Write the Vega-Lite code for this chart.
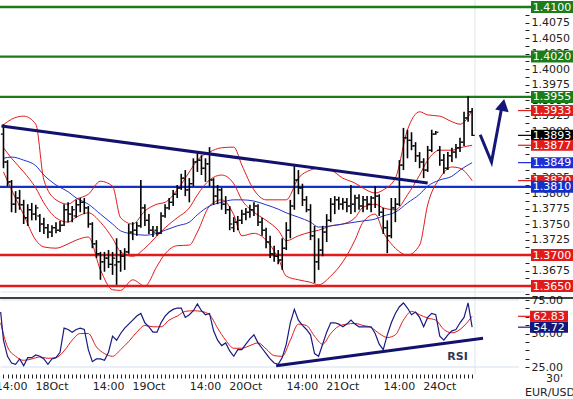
{
"$schema":"https://vega.github.io/schema/vega-lite/v6.json",
"width":573,"height":374,
"autosize":{"type":"none"},
"padding":{"left":0,"top":0,"right":0,"bottom":25},
"background":"white",
"config":{"font":"DejaVu Sans","view":{"stroke":null},"axis":{"labelOverlap":false}},
"datasets":{
"one":[{}],
"timeLabels":[
{"t":14,"label":"14:00"},{"t":24,"label":"18Oct"},{"t":38,"label":"14:00"},{"t":48,"label":"19Oct"},{"t":62,"label":"14:00"},
{"t":72,"label":"20Oct"},{"t":86,"label":"14:00"},{"t":96,"label":"21Oct"},{"t":110,"label":"14:00"},{"t":120,"label":"24Oct"}
],
"bars":[
{"t":12,"o":1.3895,"h":1.3911,"l":1.3840,"c":1.3850},
{"t":13,"o":1.3850,"h":1.3853,"l":1.3811,"c":1.3818},
{"t":14,"o":1.3818,"h":1.3821,"l":1.3769,"c":1.3782},
{"t":15,"o":1.3782,"h":1.3803,"l":1.3768,"c":1.3792},
{"t":16,"o":1.3792,"h":1.3805,"l":1.3773,"c":1.3781},
{"t":17,"o":1.3781,"h":1.3789,"l":1.3750,"c":1.3760},
{"t":18,"o":1.3760,"h":1.3782,"l":1.3747,"c":1.3773},
{"t":19,"o":1.3773,"h":1.3784,"l":1.3756,"c":1.3766},
{"t":20,"o":1.3766,"h":1.3781,"l":1.3756,"c":1.3776},
{"t":21,"o":1.3763,"h":1.3766,"l":1.3737,"c":1.3750},
{"t":22,"o":1.3750,"h":1.3760,"l":1.3734,"c":1.3744},
{"t":23,"o":1.3744,"h":1.3750,"l":1.3727,"c":1.3737},
{"t":24,"o":1.3737,"h":1.3748,"l":1.3729,"c":1.3744},
{"t":25,"o":1.3744,"h":1.3753,"l":1.3735,"c":1.3740},
{"t":26,"o":1.3740,"h":1.3755,"l":1.3737,"c":1.3748},
{"t":27,"o":1.3748,"h":1.3782,"l":1.3747,"c":1.3773},
{"t":28,"o":1.3773,"h":1.3785,"l":1.3753,"c":1.3766},
{"t":29,"o":1.3766,"h":1.3779,"l":1.3753,"c":1.3773},
{"t":30,"o":1.3763,"h":1.3789,"l":1.3760,"c":1.3781},
{"t":31,"o":1.3781,"h":1.3792,"l":1.3769,"c":1.3785},
{"t":32,"o":1.3785,"h":1.3792,"l":1.3766,"c":1.3776},
{"t":33,"o":1.3776,"h":1.3779,"l":1.3744,"c":1.3750},
{"t":34,"o":1.3750,"h":1.3753,"l":1.3711,"c":1.3718},
{"t":35,"o":1.3718,"h":1.3724,"l":1.3695,"c":1.3702},
{"t":36,"o":1.3702,"h":1.3705,"l":1.3660,"c":1.3689},
{"t":37,"o":1.3689,"h":1.3705,"l":1.3673,"c":1.3695},
{"t":38,"o":1.3695,"h":1.3708,"l":1.3679,"c":1.3685},
{"t":39,"o":1.3685,"h":1.3705,"l":1.3668,"c":1.3695},
{"t":40,"o":1.3684,"h":1.3727,"l":1.3652,"c":1.3689},
{"t":41,"o":1.3689,"h":1.3708,"l":1.3673,"c":1.3698},
{"t":42,"o":1.3698,"h":1.3711,"l":1.3676,"c":1.3705},
{"t":43,"o":1.3705,"h":1.3750,"l":1.3702,"c":1.3737},
{"t":44,"o":1.3737,"h":1.3753,"l":1.3724,"c":1.3740},
{"t":45,"o":1.3740,"h":1.3753,"l":1.3731,"c":1.3747},
{"t":46,"o":1.3747,"h":1.3821,"l":1.3744,"c":1.3776},
{"t":47,"o":1.3776,"h":1.3782,"l":1.3747,"c":1.3756},
{"t":48,"o":1.3756,"h":1.3766,"l":1.3734,"c":1.3740},
{"t":49,"o":1.3740,"h":1.3747,"l":1.3729,"c":1.3737},
{"t":50,"o":1.3740,"h":1.3747,"l":1.3731,"c":1.3735},
{"t":51,"o":1.3735,"h":1.3769,"l":1.3734,"c":1.3763},
{"t":52,"o":1.3763,"h":1.3782,"l":1.3760,"c":1.3776},
{"t":53,"o":1.3776,"h":1.3792,"l":1.3773,"c":1.3785},
{"t":54,"o":1.3785,"h":1.3805,"l":1.3779,"c":1.3798},
{"t":55,"o":1.3798,"h":1.3813,"l":1.3792,"c":1.3808},
{"t":56,"o":1.3808,"h":1.3831,"l":1.3805,"c":1.3824},
{"t":57,"o":1.3824,"h":1.3837,"l":1.3795,"c":1.3805},
{"t":58,"o":1.3805,"h":1.3824,"l":1.3785,"c":1.3815},
{"t":59,"o":1.3815,"h":1.3856,"l":1.3811,"c":1.3850},
{"t":60,"o":1.3850,"h":1.3865,"l":1.3834,"c":1.3853},
{"t":61,"o":1.3853,"h":1.3861,"l":1.3829,"c":1.3840},
{"t":62,"o":1.3840,"h":1.3856,"l":1.3818,"c":1.3847},
{"t":63,"o":1.3847,"h":1.3874,"l":1.3811,"c":1.3821},
{"t":64,"o":1.3821,"h":1.3824,"l":1.3781,"c":1.3795},
{"t":65,"o":1.3795,"h":1.3813,"l":1.3782,"c":1.3805},
{"t":66,"o":1.3805,"h":1.3808,"l":1.3773,"c":1.3782},
{"t":67,"o":1.3782,"h":1.3795,"l":1.3766,"c":1.3773},
{"t":68,"o":1.3773,"h":1.3779,"l":1.3740,"c":1.3750},
{"t":69,"o":1.3744,"h":1.3761,"l":1.3737,"c":1.3753},
{"t":70,"o":1.3753,"h":1.3763,"l":1.3740,"c":1.3756},
{"t":71,"o":1.3756,"h":1.3773,"l":1.3750,"c":1.3766},
{"t":72,"o":1.3766,"h":1.3776,"l":1.3756,"c":1.3769},
{"t":73,"o":1.3769,"h":1.3781,"l":1.3760,"c":1.3773},
{"t":74,"o":1.3773,"h":1.3785,"l":1.3763,"c":1.3779},
{"t":75,"o":1.3779,"h":1.3782,"l":1.3747,"c":1.3753},
{"t":76,"o":1.3753,"h":1.3760,"l":1.3731,"c":1.3740},
{"t":77,"o":1.3740,"h":1.3744,"l":1.3711,"c":1.3721},
{"t":78,"o":1.3721,"h":1.3731,"l":1.3695,"c":1.3702},
{"t":79,"o":1.3702,"h":1.3715,"l":1.3689,"c":1.3698},
{"t":80,"o":1.3698,"h":1.3708,"l":1.3685,"c":1.3692},
{"t":81,"o":1.3692,"h":1.3727,"l":1.3676,"c":1.3711},
{"t":82,"o":1.3711,"h":1.3753,"l":1.3708,"c":1.3740},
{"t":83,"o":1.3740,"h":1.3789,"l":1.3727,"c":1.3779},
{"t":84,"o":1.3779,"h":1.3844,"l":1.3773,"c":1.3821},
{"t":85,"o":1.3821,"h":1.3837,"l":1.3798,"c":1.3808},
{"t":86,"o":1.3808,"h":1.3815,"l":1.3779,"c":1.3789},
{"t":87,"o":1.3789,"h":1.3795,"l":1.3769,"c":1.3773},
{"t":88,"o":1.3773,"h":1.3782,"l":1.3724,"c":1.3731},
{"t":89,"o":1.3731,"h":1.3747,"l":1.3655,"c":1.3689},
{"t":90,"o":1.3689,"h":1.3727,"l":1.3676,"c":1.3708},
{"t":91,"o":1.3708,"h":1.3747,"l":1.3698,"c":1.3737},
{"t":92,"o":1.3737,"h":1.3766,"l":1.3721,"c":1.3756},
{"t":93,"o":1.3756,"h":1.3792,"l":1.3753,"c":1.3782},
{"t":94,"o":1.3782,"h":1.3795,"l":1.3766,"c":1.3789},
{"t":95,"o":1.3789,"h":1.3794,"l":1.3773,"c":1.3782},
{"t":96,"o":1.3782,"h":1.3792,"l":1.3773,"c":1.3785},
{"t":97,"o":1.3785,"h":1.3792,"l":1.3769,"c":1.3779},
{"t":98,"o":1.3779,"h":1.3813,"l":1.3766,"c":1.3782},
{"t":99,"o":1.3782,"h":1.3797,"l":1.3769,"c":1.3792},
{"t":100,"o":1.3792,"h":1.3798,"l":1.3773,"c":1.3779},
{"t":101,"o":1.3779,"h":1.3795,"l":1.3769,"c":1.3789},
{"t":102,"o":1.3789,"h":1.3795,"l":1.3773,"c":1.3782},
{"t":103,"o":1.3782,"h":1.3795,"l":1.3769,"c":1.3792},
{"t":104,"o":1.3792,"h":1.3811,"l":1.3776,"c":1.3795},
{"t":105,"o":1.3795,"h":1.3798,"l":1.3763,"c":1.3769},
{"t":106,"o":1.3769,"h":1.3776,"l":1.3734,"c":1.3744},
{"t":107,"o":1.3744,"h":1.3756,"l":1.3703,"c":1.3731},
{"t":108,"o":1.3731,"h":1.3792,"l":1.3727,"c":1.3776},
{"t":109,"o":1.3776,"h":1.3792,"l":1.3753,"c":1.3782},
{"t":110,"o":1.3782,"h":1.3853,"l":1.3779,"c":1.3845},
{"t":111,"o":1.3845,"h":1.3905,"l":1.3837,"c":1.3889},
{"t":112,"o":1.3889,"h":1.3902,"l":1.3856,"c":1.3885},
{"t":113,"o":1.3885,"h":1.3898,"l":1.3869,"c":1.3876},
{"t":114,"o":1.3876,"h":1.3882,"l":1.3850,"c":1.3860},
{"t":115,"o":1.3860,"h":1.3866,"l":1.3840,"c":1.3850},
{"t":116,"o":1.3850,"h":1.3856,"l":1.3824,"c":1.3837},
{"t":117,"o":1.3837,"h":1.3876,"l":1.3834,"c":1.3869},
{"t":118,"o":1.3869,"h":1.3902,"l":1.3866,"c":1.3895},
{"t":119,"o":1.3895,"h":1.3900,"l":1.3894,"c":1.3898},
{"t":120,"o":1.3869,"h":1.3876,"l":1.3844,"c":1.3853},
{"t":121,"o":1.3853,"h":1.3863,"l":1.3831,"c":1.3840},
{"t":122,"o":1.3840,"h":1.3866,"l":1.3837,"c":1.3860},
{"t":123,"o":1.3860,"h":1.3873,"l":1.3850,"c":1.3866},
{"t":124,"o":1.3866,"h":1.3879,"l":1.3856,"c":1.3873},
{"t":125,"o":1.3873,"h":1.3889,"l":1.3866,"c":1.3882},
{"t":126,"o":1.3882,"h":1.3931,"l":1.3876,"c":1.3921},
{"t":127,"o":1.3921,"h":1.3956,"l":1.3915,"c":1.3931},
{"t":128,"o":1.3931,"h":1.3937,"l":1.3892,"c":1.3893}
],
"bands":[
{"t":12,"u":1.391,"m":1.3873,"lo":1.3834,"ma":1.3856},
{"t":14,"u":1.3919,"m":1.3856,"lo":1.3805,"ma":1.3858},
{"t":17,"u":1.3924,"m":1.3834,"lo":1.3765,"ma":1.3853},
{"t":20,"u":1.3911,"m":1.3808,"lo":1.3724,"ma":1.3844},
{"t":22,"u":1.3821,"m":1.3784,"lo":1.3713,"ma":1.3829},
{"t":25,"u":1.3789,"m":1.376,"lo":1.3711,"ma":1.3813},
{"t":28,"u":1.3782,"m":1.3753,"lo":1.3718,"ma":1.3802},
{"t":30,"u":1.379,"m":1.3761,"lo":1.3724,"ma":1.3792},
{"t":33,"u":1.3798,"m":1.3768,"lo":1.3729,"ma":1.3782},
{"t":36,"u":1.3819,"m":1.3753,"lo":1.3676,"ma":1.3766},
{"t":39,"u":1.3811,"m":1.3727,"lo":1.3644,"ma":1.375},
{"t":41,"u":1.376,"m":1.3705,"lo":1.3643,"ma":1.3739},
{"t":44,"u":1.375,"m":1.3698,"lo":1.366,"ma":1.3734},
{"t":47,"u":1.3771,"m":1.3711,"lo":1.365,"ma":1.3732},
{"t":50,"u":1.3782,"m":1.3731,"lo":1.3682,"ma":1.3735},
{"t":52,"u":1.3785,"m":1.3744,"lo":1.3702,"ma":1.374},
{"t":55,"u":1.3805,"m":1.376,"lo":1.3715,"ma":1.3747},
{"t":58,"u":1.3834,"m":1.3776,"lo":1.3716,"ma":1.3753},
{"t":60,"u":1.3853,"m":1.3797,"lo":1.3737,"ma":1.3765},
{"t":63,"u":1.3866,"m":1.3821,"lo":1.3779,"ma":1.3779},
{"t":66,"u":1.3873,"m":1.3829,"lo":1.3789,"ma":1.3785},
{"t":69,"u":1.3874,"m":1.3815,"lo":1.3765,"ma":1.3789},
{"t":71,"u":1.3845,"m":1.3789,"lo":1.3731,"ma":1.3789},
{"t":74,"u":1.3805,"m":1.3769,"lo":1.3735,"ma":1.3787},
{"t":77,"u":1.3789,"m":1.3756,"lo":1.3724,"ma":1.3781},
{"t":80,"u":1.3789,"m":1.374,"lo":1.3695,"ma":1.3774},
{"t":82,"u":1.3789,"m":1.3723,"lo":1.3666,"ma":1.3768},
{"t":85,"u":1.3824,"m":1.3731,"lo":1.366,"ma":1.3761},
{"t":88,"u":1.3837,"m":1.3737,"lo":1.3656,"ma":1.3753},
{"t":90,"u":1.384,"m":1.374,"lo":1.3652,"ma":1.3745},
{"t":93,"u":1.3837,"m":1.3747,"lo":1.3666,"ma":1.3747},
{"t":96,"u":1.3824,"m":1.375,"lo":1.3689,"ma":1.375},
{"t":99,"u":1.3816,"m":1.376,"lo":1.3724,"ma":1.3753},
{"t":101,"u":1.3808,"m":1.3777,"lo":1.3753,"ma":1.3755},
{"t":104,"u":1.38,"m":1.3782,"lo":1.3766,"ma":1.3758},
{"t":106,"u":1.3805,"m":1.3776,"lo":1.3737,"ma":1.3763},
{"t":109,"u":1.3824,"m":1.3773,"lo":1.3711,"ma":1.3769},
{"t":112,"u":1.3902,"m":1.3797,"lo":1.37,"ma":1.3784},
{"t":115,"u":1.3931,"m":1.3829,"lo":1.3716,"ma":1.3798},
{"t":117,"u":1.3926,"m":1.3853,"lo":1.3781,"ma":1.3811},
{"t":120,"u":1.3924,"m":1.3869,"lo":1.3824,"ma":1.3821},
{"t":123,"u":1.3915,"m":1.3869,"lo":1.3842,"ma":1.3827},
{"t":125,"u":1.3911,"m":1.3873,"lo":1.384,"ma":1.3837},
{"t":128,"u":1.3933,"m":1.3877,"lo":1.382,"ma":1.3849}
],
"rsi":[
{"t":11.3,"v":66},{"t":12,"v":45},{"t":13,"v":33},{"t":14,"v":28},{"t":15,"v":27},{"t":16,"v":31},{"t":17,"v":26},{"t":18,"v":32},{"t":19,"v":32},{"t":20,"v":34},
{"t":21,"v":33},{"t":22,"v":31},{"t":23,"v":27},{"t":24,"v":31},{"t":25,"v":32},{"t":26,"v":36},{"t":27,"v":54},{"t":28,"v":53},{"t":29,"v":51},{"t":30,"v":53},
{"t":31,"v":54},{"t":32,"v":53},{"t":33,"v":38},{"t":34,"v":29},{"t":35,"v":31},{"t":36,"v":31},{"t":37,"v":30},{"t":38,"v":36},{"t":39,"v":48},{"t":40,"v":45},
{"t":41,"v":50},{"t":42,"v":54},{"t":43,"v":57},{"t":44,"v":60},{"t":45,"v":63},{"t":46,"v":65},{"t":47,"v":58},{"t":48,"v":55},{"t":49,"v":51},{"t":50,"v":51},
{"t":51,"v":58},{"t":52,"v":63},{"t":53,"v":66},{"t":54,"v":68},{"t":55,"v":69},{"t":56,"v":69},{"t":57,"v":62},{"t":58,"v":64},{"t":59,"v":67},{"t":60,"v":72},
{"t":61,"v":67},{"t":62,"v":64},{"t":63,"v":65},{"t":64,"v":52},{"t":65,"v":45},{"t":66,"v":41},{"t":67,"v":43},{"t":68,"v":37},{"t":69,"v":33},{"t":70,"v":38},
{"t":71,"v":38},{"t":72,"v":42},{"t":73,"v":46},{"t":74,"v":49},{"t":75,"v":43},{"t":76,"v":39},{"t":77,"v":35},{"t":78,"v":31},{"t":79,"v":28},{"t":80,"v":27},
{"t":81,"v":32},{"t":82,"v":42},{"t":83,"v":58},{"t":84,"v":68},{"t":85,"v":60},{"t":86,"v":56},{"t":87,"v":53},{"t":88,"v":49},{"t":89,"v":35},{"t":90,"v":33},
{"t":91,"v":42},{"t":92,"v":51},{"t":93,"v":58},{"t":94,"v":58},{"t":95,"v":57},{"t":96,"v":55},{"t":97,"v":57},{"t":98,"v":60},{"t":99,"v":57},{"t":100,"v":55},
{"t":101,"v":55},{"t":102,"v":55},{"t":103,"v":55},{"t":104,"v":50},{"t":105,"v":42},{"t":106,"v":38},{"t":107,"v":49},{"t":108,"v":58},{"t":109,"v":65},{"t":110,"v":70},
{"t":111,"v":72.8},{"t":112,"v":69},{"t":113,"v":64},{"t":114,"v":66},{"t":115,"v":62},{"t":116,"v":55},{"t":117,"v":62},{"t":118,"v":65},{"t":119,"v":64},{"t":120,"v":48},
{"t":121,"v":45},{"t":122,"v":49},{"t":123,"v":52},{"t":124,"v":53},{"t":125,"v":58},{"t":126,"v":62},{"t":127,"v":72.8},{"t":128,"v":54.72}
],
"signal":[
{"t":11.3,"v":58},{"t":13,"v":40},{"t":15,"v":33},{"t":17,"v":30},{"t":19,"v":31},{"t":21,"v":32.5},{"t":23,"v":31.5},{"t":25,"v":32},{"t":27,"v":37},{"t":29,"v":45},
{"t":31,"v":50},{"t":33,"v":50},{"t":35,"v":40},{"t":37,"v":35},{"t":39,"v":33},{"t":41,"v":38},{"t":43,"v":44},{"t":45,"v":51},{"t":47,"v":56},{"t":49,"v":55},
{"t":51,"v":55},{"t":53,"v":60},{"t":55,"v":63},{"t":57,"v":66.5},{"t":59,"v":67},{"t":61,"v":66.5},{"t":63,"v":64},{"t":65,"v":54},{"t":67,"v":45},{"t":69,"v":39},
{"t":71,"v":39},{"t":73,"v":41},{"t":75,"v":43},{"t":77,"v":38.5},{"t":79,"v":33.5},{"t":81,"v":33},{"t":83,"v":45},{"t":85,"v":57},{"t":87,"v":56},{"t":89,"v":48},
{"t":91,"v":42},{"t":93,"v":50},{"t":95,"v":55.5},{"t":97,"v":57},{"t":99,"v":57.5},{"t":101,"v":56},{"t":103,"v":54.5},{"t":105,"v":50},{"t":107,"v":47},{"t":109,"v":49},
{"t":111,"v":60},{"t":113,"v":66.5},{"t":115,"v":64},{"t":117,"v":61.5},{"t":119,"v":60},{"t":121,"v":53},{"t":123,"v":50.5},{"t":125,"v":53},{"t":127,"v":59},{"t":128,"v":62.83}
],
"levels":[
{"p":1.41,"label":"1.4100","kind":"resistance"},
{"p":1.402,"label":"1.4020","kind":"resistance"},
{"p":1.3955,"label":"1.3955","kind":"resistance"},
{"p":1.381,"label":"1.3810","kind":"pivot"},
{"p":1.37,"label":"1.3700","kind":"support"},
{"p":1.365,"label":"1.3650","kind":"support"}
],
"tags":[
{"p":1.3933,"label":"1.3933","kind":"BB upper"},
{"p":1.3893,"label":"1.3893","kind":"Last"},
{"p":1.3877,"label":"1.3877","kind":"BB middle"},
{"p":1.3849,"label":"1.3849","kind":"MA"},
{"p":1.382,"label":"1.3820","kind":"BB lower"}
],
"rsiTags":[
{"v":62.83,"label":"62.83","kind":"Signal"},
{"v":54.72,"label":"54.72","kind":"RSI"}
],
"trend":[{"t":11.5,"p":1.3908},{"t":117,"p":1.3816}],
"rsiTrend":[{"t":79.5,"v":26},{"t":130.7,"v":46.5}],
"arrow":[{"t":130,"p":1.3894},{"t":132.8,"p":1.385},{"t":135.3,"p":1.3937}]
},
"resolve":{"scale":{"y":"independent"}},
"layer":[
{"layer":[
{"data":{"name":"one"},"mark":{"type":"rule","color":"#dde6ef","strokeWidth":1},
 "encoding":{"x":{"datum":11.3,"type":"quantitative","scale":{"domain":[11.139,152.97],"nice":false,"zero":false}},"x2":{"datum":141.1},
 "y":{"datum":1.36403,"type":"quantitative","scale":{"domain":[1.35081,1.41113],"nice":false,"zero":false}}}},
{"data":{"name":"one"},"mark":{"type":"rule","color":"#dde6ef","strokeWidth":1},
 "encoding":{"x":{"datum":128.7,"type":"quantitative","scale":{"domain":[11.139,152.97],"nice":false,"zero":false}}}},
{"data":{"name":"levels"},"mark":{"type":"rule","strokeWidth":2.3},
 "encoding":{"y":{"field":"p","type":"quantitative","scale":{"domain":[1.35081,1.41113],"nice":false,"zero":false},
   "axis":{"orient":"right","offset":-48,"title":null,"domain":false,"grid":false,"ticks":true,"labels":true,"tickSize":4,"tickColor":"#222","tickWidth":1,"tickCount":60,
     "values":[1.36375,1.365,1.36625,1.3675,1.36875,1.37,1.37125,1.3725,1.37375,1.375,1.37625,1.3775,1.37875,1.38,1.38125,1.3825,1.38375,1.385,1.38625,1.3875,1.38875,1.39,1.39125,1.3925,1.39375,1.395,1.39625,1.3975,1.39875,1.4,1.40125,1.4025,1.40375,1.405,1.40625,1.4075,1.40875,1.41],
     "labelExpr":"abs(datum.value*400 - round(datum.value*400)) < 0.01 ? format(datum.value, '.4f') : ''",
     "labelFont":"DejaVu Sans","labelFontSize":11,"labelColor":"#222","labelPadding":2,"labelOverlap":false,"labelBound":false,"labelFlush":false}},
  "color":{"field":"kind","type":"nominal","legend":null,
   "scale":{"domain":["resistance","pivot","support","BB upper","BB middle","BB lower","MA","Last","RSI","Signal"],"range":["#1c7c1c","#1530c8","#e01b1b","#e01b1b","#e01b1b","#e01b1b","#1c2fd8","#000000","#15157a","#e01b1b"]}}}},
{"data":{"name":"bands"},"mark":{"type":"line","color":"#e01b1b","strokeWidth":1,"interpolate":"monotone"},
 "encoding":{"x":{"field":"t","type":"quantitative","scale":{"domain":[11.139,152.97],"nice":false,"zero":false}},
  "y":{"field":"u","type":"quantitative","scale":{"domain":[1.35081,1.41113],"nice":false,"zero":false}}}},
{"data":{"name":"bands"},"mark":{"type":"line","color":"#e01b1b","strokeWidth":1,"interpolate":"monotone"},
 "encoding":{"x":{"field":"t","type":"quantitative","scale":{"domain":[11.139,152.97],"nice":false,"zero":false}},
  "y":{"field":"m","type":"quantitative","scale":{"domain":[1.35081,1.41113],"nice":false,"zero":false}}}},
{"data":{"name":"bands"},"mark":{"type":"line","color":"#e01b1b","strokeWidth":1,"interpolate":"monotone"},
 "encoding":{"x":{"field":"t","type":"quantitative","scale":{"domain":[11.139,152.97],"nice":false,"zero":false}},
  "y":{"field":"lo","type":"quantitative","scale":{"domain":[1.35081,1.41113],"nice":false,"zero":false}}}},
{"data":{"name":"bands"},"mark":{"type":"line","color":"#2233cc","strokeWidth":1,"interpolate":"monotone"},
 "encoding":{"x":{"field":"t","type":"quantitative","scale":{"domain":[11.139,152.97],"nice":false,"zero":false}},
  "y":{"field":"ma","type":"quantitative","scale":{"domain":[1.35081,1.41113],"nice":false,"zero":false}}}},
{"data":{"name":"bars"},"mark":{"type":"rule","color":"#000","strokeWidth":1.6},
 "encoding":{"x":{"field":"t","type":"quantitative","scale":{"domain":[11.139,152.97],"nice":false,"zero":false},
   "axis":{"orient":"bottom","title":null,"domain":false,"grid":false,"ticks":true,"labels":false,"tickSize":4,"tickColor":"#222","tickWidth":1,"tickCount":200,
    "values":[12,13,14,15,16,17,18,19,20,21,22,23,24,25,26,27,28,29,30,31,32,33,34,35,36,37,38,39,40,41,42,43,44,45,46,47,48,49,50,51,52,53,54,55,56,57,58,59,60,61,62,63,64,65,66,67,68,69,70,71,72,73,74,75,76,77,78,79,80,81,82,83,84,85,86,87,88,89,90,91,92,93,94,95,96,97,98,99,100,101,102,103,104,105,106,107,108,109,110,111,112,113,114,115,116,117,118,119,120,121,122,123,124,125,126,127,128]}},
  "y":{"field":"h","type":"quantitative","scale":{"domain":[1.35081,1.41113],"nice":false,"zero":false}},
  "y2":{"field":"l"}}},
{"data":{"name":"bars"},"mark":{"type":"tick","orient":"horizontal","size":2,"thickness":1.2,"xOffset":-1.6,"color":"#000","opacity":1},
 "encoding":{"x":{"field":"t","type":"quantitative","scale":{"domain":[11.139,152.97],"nice":false,"zero":false}},
  "y":{"field":"o","type":"quantitative","scale":{"domain":[1.35081,1.41113],"nice":false,"zero":false}}}},
{"data":{"name":"bars"},"mark":{"type":"tick","orient":"horizontal","size":2,"thickness":1.2,"xOffset":1.6,"color":"#000","opacity":1},
 "encoding":{"x":{"field":"t","type":"quantitative","scale":{"domain":[11.139,152.97],"nice":false,"zero":false}},
  "y":{"field":"c","type":"quantitative","scale":{"domain":[1.35081,1.41113],"nice":false,"zero":false}}}},
{"data":{"name":"trend"},"mark":{"type":"line","color":"#12126e","strokeWidth":3},
 "encoding":{"x":{"field":"t","type":"quantitative","scale":{"domain":[11.139,152.97],"nice":false,"zero":false}},
  "y":{"field":"p","type":"quantitative","scale":{"domain":[1.35081,1.41113],"nice":false,"zero":false}}}},
{"data":{"name":"arrow"},"mark":{"type":"line","color":"#16167a","strokeWidth":3},
 "encoding":{"x":{"field":"t","type":"quantitative","scale":{"domain":[11.139,152.97],"nice":false,"zero":false}},
  "y":{"field":"p","type":"quantitative","scale":{"domain":[1.35081,1.41113],"nice":false,"zero":false}}}},
{"data":{"name":"one"},"mark":{"type":"point","shape":"triangle-up","filled":true,"size":190,"angle":11,"color":"#16167a","opacity":1},
 "encoding":{"x":{"datum":135.65,"type":"quantitative","scale":{"domain":[11.139,152.97],"nice":false,"zero":false}},
  "y":{"datum":1.3942,"type":"quantitative","scale":{"domain":[1.35081,1.41113],"nice":false,"zero":false}}}},
{"data":{"name":"tags"},"mark":{"type":"rule","strokeWidth":1.2},
 "encoding":{"x":{"datum":139.36,"type":"quantitative","scale":{"domain":[11.139,152.97],"nice":false,"zero":false}},"x2":{"datum":142.57},
  "y":{"field":"p","type":"quantitative","scale":{"domain":[1.35081,1.41113],"nice":false,"zero":false}},
  "color":{"field":"kind","type":"nominal","legend":null,
   "scale":{"domain":["resistance","pivot","support","BB upper","BB middle","BB lower","MA","Last","RSI","Signal"],"range":["#1c7c1c","#1530c8","#e01b1b","#e01b1b","#e01b1b","#e01b1b","#1c2fd8","#000000","#15157a","#e01b1b"]}}}},
{"data":{"name":"tags"},"mark":{"type":"tick","orient":"horizontal","size":42,"thickness":11,"opacity":1},
 "encoding":{"x":{"datum":147.77,"type":"quantitative","scale":{"domain":[11.139,152.97],"nice":false,"zero":false}},
  "y":{"field":"p","type":"quantitative","scale":{"domain":[1.35081,1.41113],"nice":false,"zero":false}},
  "color":{"field":"kind","type":"nominal","legend":null,
   "scale":{"domain":["resistance","pivot","support","BB upper","BB middle","BB lower","MA","Last","RSI","Signal"],"range":["#1c7c1c","#1530c8","#e01b1b","#e01b1b","#e01b1b","#e01b1b","#1c2fd8","#000000","#15157a","#e01b1b"]}}}},
{"data":{"name":"tags"},"mark":{"type":"text","color":"white","font":"DejaVu Sans","fontSize":11,"align":"center","baseline":"middle","dy":0.5},
 "encoding":{"x":{"datum":147.77,"type":"quantitative","scale":{"domain":[11.139,152.97],"nice":false,"zero":false}},
  "y":{"field":"p","type":"quantitative","scale":{"domain":[1.35081,1.41113],"nice":false,"zero":false}},
  "text":{"field":"label"}}},
{"data":{"name":"levels"},"mark":{"type":"tick","orient":"horizontal","size":42,"thickness":12,"opacity":1},
 "encoding":{"x":{"datum":147.77,"type":"quantitative","scale":{"domain":[11.139,152.97],"nice":false,"zero":false}},
  "y":{"field":"p","type":"quantitative","scale":{"domain":[1.35081,1.41113],"nice":false,"zero":false}},
  "color":{"field":"kind","type":"nominal","legend":null,
   "scale":{"domain":["resistance","pivot","support","BB upper","BB middle","BB lower","MA","Last","RSI","Signal"],"range":["#1c7c1c","#1530c8","#e01b1b","#e01b1b","#e01b1b","#e01b1b","#1c2fd8","#000000","#15157a","#e01b1b"]}}}},
{"data":{"name":"levels"},"mark":{"type":"text","color":"white","font":"DejaVu Sans","fontSize":11,"align":"center","baseline":"middle","dy":0.5},
 "encoding":{"x":{"datum":147.77,"type":"quantitative","scale":{"domain":[11.139,152.97],"nice":false,"zero":false}},
  "y":{"field":"p","type":"quantitative","scale":{"domain":[1.35081,1.41113],"nice":false,"zero":false}},
  "text":{"field":"label"}}}
]},
{"layer":[
{"data":{"name":"one"},"mark":{"type":"rule","color":"#d3e0ee","strokeWidth":1},
 "encoding":{"x":{"datum":11.3,"type":"quantitative","scale":{"domain":[11.139,152.97],"nice":false,"zero":false}},"x2":{"datum":139.6},
  "y":{"datum":75,"type":"quantitative","scale":{"domain":[19.78,298.88],"nice":false,"zero":false}}}},
{"data":{"name":"one"},"mark":{"type":"rule","color":"#d3e0ee","strokeWidth":1},
 "encoding":{"x":{"datum":11.3,"type":"quantitative","scale":{"domain":[11.139,152.97],"nice":false,"zero":false}},"x2":{"datum":139.6},
  "y":{"datum":25,"type":"quantitative","scale":{"domain":[19.78,298.88],"nice":false,"zero":false}}}},
{"data":{"name":"one"},"mark":{"type":"rule","color":"#000","strokeWidth":1.5},
 "encoding":{"y":{"datum":76.5,"type":"quantitative","scale":{"domain":[19.78,298.88],"nice":false,"zero":false}}}},
{"data":{"name":"rsiTrend"},"mark":{"type":"line","color":"#12126e","strokeWidth":3},
 "encoding":{"x":{"field":"t","type":"quantitative","scale":{"domain":[11.139,152.97],"nice":false,"zero":false}},
  "y":{"field":"v","type":"quantitative","scale":{"domain":[19.78,298.88],"nice":false,"zero":false}}}},
{"data":{"name":"signal"},"mark":{"type":"line","color":"#e01b1b","strokeWidth":1,"interpolate":"monotone"},
 "encoding":{"x":{"field":"t","type":"quantitative","scale":{"domain":[11.139,152.97],"nice":false,"zero":false}},
  "y":{"field":"v","type":"quantitative","scale":{"domain":[19.78,298.88],"nice":false,"zero":false}}}},
{"data":{"name":"rsi"},"mark":{"type":"line","color":"#1a1a80","strokeWidth":1.2},
 "encoding":{"x":{"field":"t","type":"quantitative","scale":{"domain":[11.139,152.97],"nice":false,"zero":false}},
  "y":{"field":"v","type":"quantitative","scale":{"domain":[19.78,298.88],"nice":false,"zero":false},
   "axis":{"orient":"right","offset":-48,"title":null,"domain":false,"grid":false,"ticks":true,"labels":true,"tickSize":4,"tickColor":"#222","tickWidth":1,"tickCount":20,
    "values":[25,31.25,37.5,43.75,50,56.25,62.5,68.75,75],
    "labelExpr":"datum.value % 25 == 0 ? format(datum.value, '.2f') : ''",
    "labelFont":"DejaVu Sans","labelFontSize":11,"labelColor":"#222","labelPadding":2,"labelOverlap":false,"labelBound":false,"labelFlush":false}}}},
{"data":{"name":"rsiTags"},"mark":{"type":"rule","strokeWidth":1.2},
 "encoding":{"x":{"datum":139.36,"type":"quantitative","scale":{"domain":[11.139,152.97],"nice":false,"zero":false}},"x2":{"datum":142.33},
  "y":{"field":"v","type":"quantitative","scale":{"domain":[19.78,298.88],"nice":false,"zero":false}},
  "color":{"field":"kind","type":"nominal","legend":null,
   "scale":{"domain":["resistance","pivot","support","BB upper","BB middle","BB lower","MA","Last","RSI","Signal"],"range":["#1c7c1c","#1530c8","#e01b1b","#e01b1b","#e01b1b","#e01b1b","#1c2fd8","#000000","#15157a","#e01b1b"]}}}},
{"data":{"name":"rsiTags"},"mark":{"type":"tick","orient":"horizontal","size":38,"thickness":11,"opacity":1},
 "encoding":{"x":{"datum":147.03,"type":"quantitative","scale":{"domain":[11.139,152.97],"nice":false,"zero":false}},
  "y":{"field":"v","type":"quantitative","scale":{"domain":[19.78,298.88],"nice":false,"zero":false}},
  "color":{"field":"kind","type":"nominal","legend":null,
   "scale":{"domain":["resistance","pivot","support","BB upper","BB middle","BB lower","MA","Last","RSI","Signal"],"range":["#1c7c1c","#1530c8","#e01b1b","#e01b1b","#e01b1b","#e01b1b","#1c2fd8","#000000","#15157a","#e01b1b"]}}}},
{"data":{"name":"rsiTags"},"mark":{"type":"text","color":"white","font":"DejaVu Sans","fontSize":11,"align":"center","baseline":"middle","dy":0.5},
 "encoding":{"x":{"datum":147.03,"type":"quantitative","scale":{"domain":[11.139,152.97],"nice":false,"zero":false}},
  "y":{"field":"v","type":"quantitative","scale":{"domain":[19.78,298.88],"nice":false,"zero":false}},
  "text":{"field":"label"}}},
{"data":{"name":"one"},"mark":{"type":"text","color":"#2d3a55","font":"DejaVu Sans","fontSize":11,"fontWeight":"bold","align":"center","baseline":"middle"},
 "encoding":{"x":{"datum":124.4,"type":"quantitative","scale":{"domain":[11.139,152.97],"nice":false,"zero":false}},
  "y":{"datum":32.1,"type":"quantitative","scale":{"domain":[19.78,298.88],"nice":false,"zero":false}},
  "text":{"value":"RSI"}}},
{"data":{"name":"timeLabels"},"mark":{"type":"text","color":"#222","font":"DejaVu Sans","fontSize":11,"align":"center","baseline":"middle"},
 "encoding":{"x":{"field":"t","type":"quantitative","scale":{"domain":[11.139,152.97],"nice":false,"zero":false}},
  "y":{"datum":10.1,"type":"quantitative","scale":{"domain":[19.78,298.88],"nice":false,"zero":false}},
  "text":{"field":"label"}}},
{"data":{"name":"one"},"mark":{"type":"text","color":"#222","font":"DejaVu Sans","fontSize":11,"align":"center","baseline":"middle"},
 "encoding":{"x":{"datum":148.4,"type":"quantitative","scale":{"domain":[11.139,152.97],"nice":false,"zero":false}},
  "y":{"datum":16,"type":"quantitative","scale":{"domain":[19.78,298.88],"nice":false,"zero":false}},
  "text":{"value":"30'"}}},
{"data":{"name":"one"},"mark":{"type":"text","color":"#222","font":"DejaVu Sans","fontSize":11,"align":"left","baseline":"middle"},
 "encoding":{"x":{"datum":141.1,"type":"quantitative","scale":{"domain":[11.139,152.97],"nice":false,"zero":false}},
  "y":{"datum":5.6,"type":"quantitative","scale":{"domain":[19.78,298.88],"nice":false,"zero":false}},
  "text":{"value":"EUR/USD"}}}
]}
]
}
